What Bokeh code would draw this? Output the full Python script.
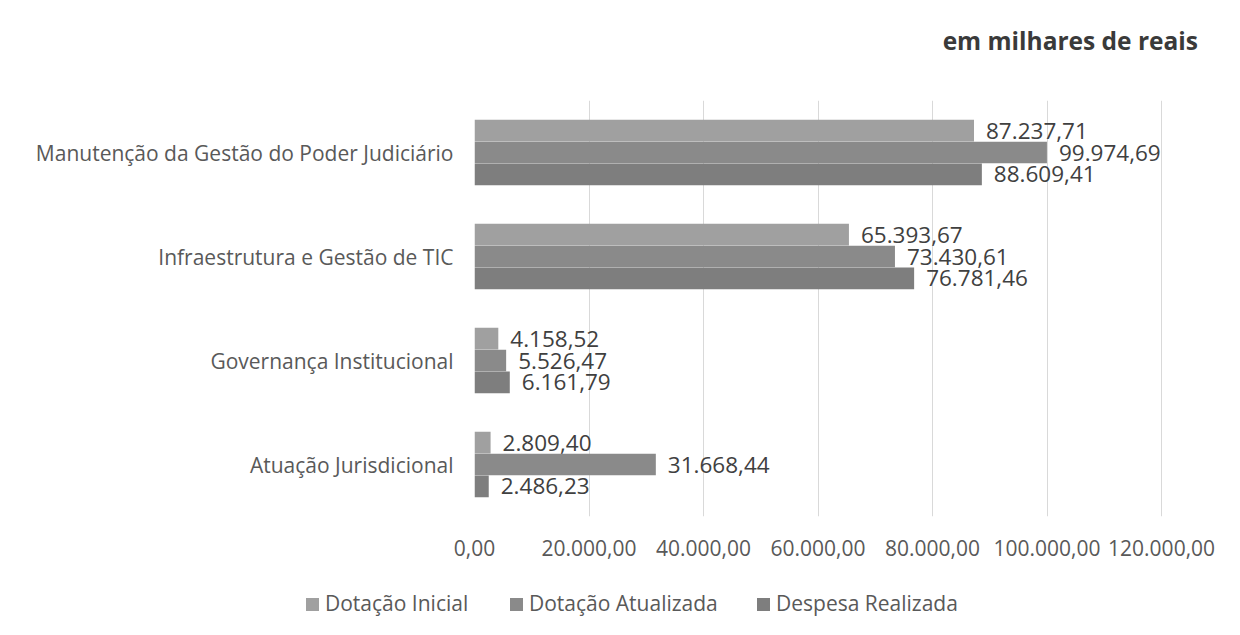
from bokeh.plotting import figure
from bokeh.layouts import column
from bokeh.models import (FactorRange, Range1d, FixedTicker, ColumnDataSource, Div)
from bokeh.transform import dodge
from bokeh.core.properties import value
from bokeh.embed import file_html
from bokeh.resources import INLINE

# ---- data ----
categories = ["Manutenção da Gestão do Poder Judiciário",
              "Infraestrutura e Gestão de TIC",
              "Governança Institucional",
              "Atuação Jurisdicional"]
series_names = ["Dotação Inicial", "Dotação Atualizada", "Despesa Realizada"]
dotacao_inicial = [87237.71, 65393.67, 4158.52, 2809.40]
dotacao_atualizada = [99974.69, 73430.61, 5526.47, 31668.44]
despesa_realizada = [88609.41, 76781.46, 6161.79, 2486.23]
x_ticks = [0, 20000, 40000, 60000, 80000, 100000, 120000]
x_tick_labels = ["0,00", "20.000,00", "40.000,00", "60.000,00",
                 "80.000,00", "100.000,00", "120.000,00"]
title_text = "em milhares de reais"


def fmt_br(v):
    s = f"{v:,.2f}"
    return s.replace(",", "X").replace(".", ",").replace("X", ".")


FONT = "Open Sans"
W = 1224
colors = ["#a0a0a0", "#8a8a8a", "#7e7e7e"]
offsets = [0.21, 0.0, -0.21]
series_values = [dotacao_inicial, dotacao_atualizada, despesa_realizada]
legend_item_left = [306, 510, 757]   # layout positions (px) of legend entries

# ---- title strip ----
title_html = (
    f'<div style="position:relative;width:{W}px;height:100px;">'
    f'<span style="position:absolute;right:26px;top:27px;font-family:\'{FONT}\';'
    f'font-weight:bold;font-size:24.5px;line-height:28px;color:#3a3a3a;'
    f'white-space:nowrap;">{title_text}</span></div>')
title_div = Div(text=title_html, width=W, height=100, margin=0)

# ---- main chart ----
p = figure(frame_width=710, frame_height=416,
           y_range=FactorRange(factors=list(reversed(categories)), range_padding=0),
           x_range=Range1d(0, 124000),
           output_backend="svg", toolbar_location=None,
           min_border_left=474, min_border_right=40,
           min_border_top=0, min_border_bottom=64, margin=0)
p.outline_line_color = None
p.background_fill_color = "white"
p.border_fill_color = "white"

for name, vals, col, off in zip(series_names, series_values, colors, offsets):
    src = ColumnDataSource(dict(cat=categories, val=vals,
                                lab=[fmt_br(v) for v in vals]))
    p.hbar(y=dodge("cat", off, range=p.y_range), right="val", left=0,
           height=0.208, source=src, fill_color=col, line_color=None)
    p.text(x="val", y=dodge("cat", off, range=p.y_range), text="lab", source=src,
           x_offset=12, text_baseline="middle", text_align="left",
           text_font=value(FONT), text_font_size="22.5px", text_color="#404040")

p.xaxis.ticker = FixedTicker(ticks=x_ticks)
p.xaxis.major_label_overrides = {t: l for t, l in zip(x_ticks, x_tick_labels)}
p.xaxis.axis_line_color = None
p.xaxis.major_tick_line_color = None
p.xaxis.minor_tick_line_color = None
p.xaxis.major_label_standoff = 17
p.xaxis.major_label_text_font = FONT
p.xaxis.major_label_text_font_size = "21px"
p.xaxis.major_label_text_color = "#595959"

p.yaxis.axis_line_color = None
p.yaxis.major_tick_line_color = None
p.yaxis.minor_tick_line_color = None
p.yaxis.major_label_standoff = 15
p.yaxis.major_label_text_font = FONT
p.yaxis.major_label_text_font_size = "21px"
p.yaxis.major_label_text_color = "#595959"

p.xgrid.ticker = FixedTicker(ticks=x_ticks)
p.xgrid.grid_line_color = "#d9d9d9"
p.ygrid.grid_line_color = None

# ---- legend strip ----
items_html = ""
for name, col, left in zip(series_names, colors, legend_item_left):
    items_html += (
        f'<span style="position:absolute;left:{left}px;top:9px;line-height:28px;'
        f'white-space:nowrap;font-family:\'{FONT}\';font-size:21px;color:#595959;">'
        f'<span style="display:inline-block;width:13px;height:13px;background:{col};'
        f'margin-right:6px;vertical-align:middle;position:relative;top:-1px;"></span>'
        f'{name}</span>')
legend_html = (f'<div style="position:relative;width:{W}px;height:39px;">'
               f'{items_html}</div>')
legend_div = Div(text=legend_html, width=W, height=39, margin=0)

layout = column(title_div, p, legend_div, spacing=0)
open("out.html", "w").write(file_html(layout, INLINE))
